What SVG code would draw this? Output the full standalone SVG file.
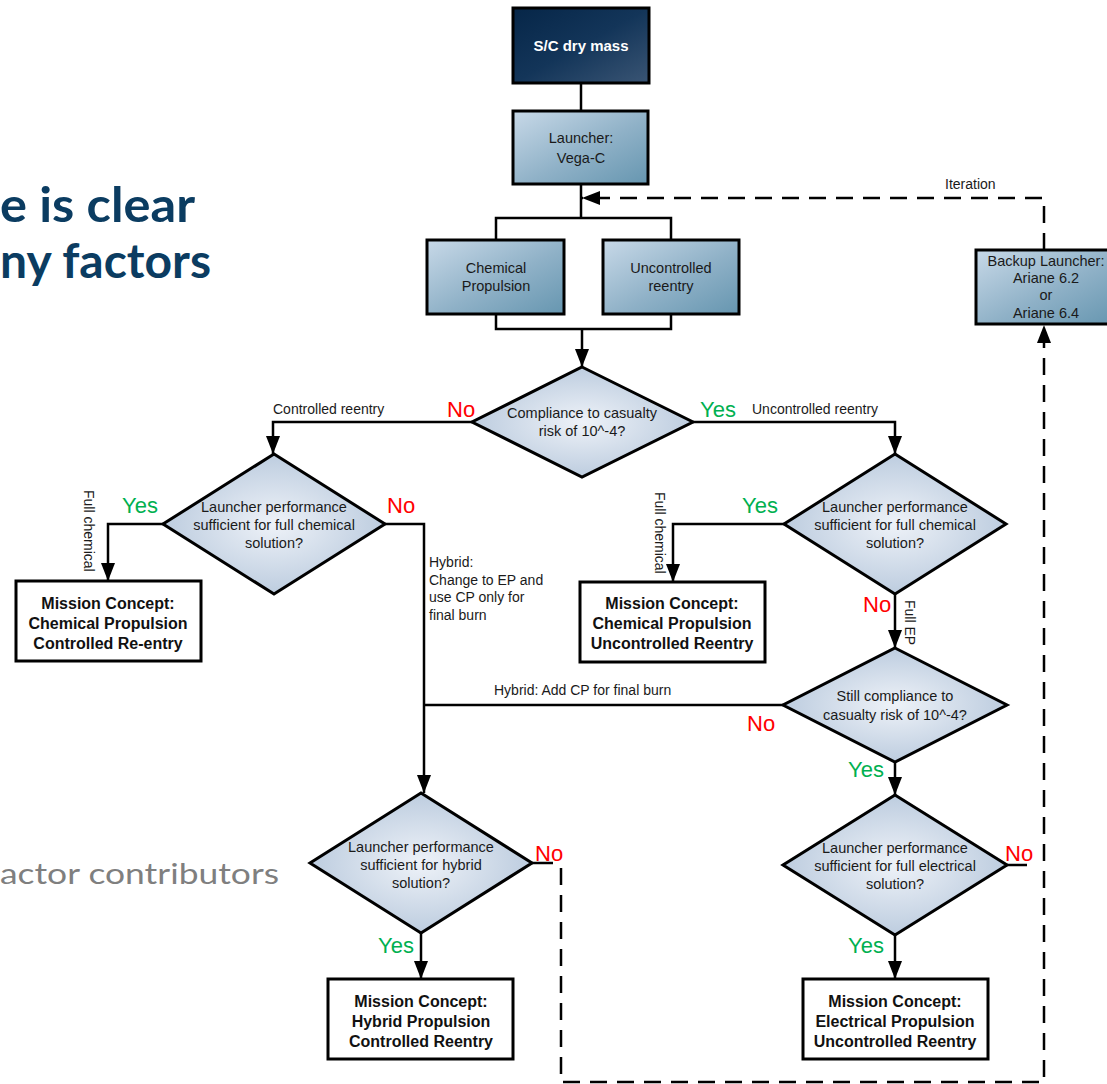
<svg xmlns="http://www.w3.org/2000/svg" width="1107" height="1084" viewBox="0 0 1107 1084">
<defs>
<linearGradient id="gBox" x1="0" y1="0" x2="1" y2="1">
<stop offset="0" stop-color="#c8d9e8"/><stop offset="0.55" stop-color="#8fb1c7"/><stop offset="1" stop-color="#6696b0"/>
</linearGradient>
<linearGradient id="gDark" x1="0" y1="0" x2="1" y2="1">
<stop offset="0" stop-color="#062648"/><stop offset="0.5" stop-color="#133559"/><stop offset="1" stop-color="#3a5574"/>
</linearGradient>
<radialGradient id="gDia" cx="0.5" cy="0.5" r="0.6">
<stop offset="0" stop-color="#eef2f8"/><stop offset="1" stop-color="#b3c5da"/>
</radialGradient>
<marker id="arr" viewBox="0 0 18 14" refX="18" refY="7" markerWidth="18" markerHeight="14" markerUnits="userSpaceOnUse" orient="auto">
<path d="M0,0 L18,7 L0,14 z" fill="#000"/>
</marker>
<style>
.box{fill:url(#gBox);stroke:#000;stroke-width:3}
.dark{fill:url(#gDark);stroke:#000;stroke-width:3}
.dia{fill:url(#gDia);stroke:#000;stroke-width:3;stroke-linejoin:miter}
.mc{fill:#fff;stroke:#000;stroke-width:3}
.t{font-family:"Liberation Sans",Arial,sans-serif;font-size:14.5px;fill:#1a1a1a;text-anchor:middle}
.tb{font-family:"Liberation Sans",Arial,sans-serif;font-size:16px;font-weight:bold;fill:#111;text-anchor:middle}
.lbl{font-family:"Liberation Sans",Arial,sans-serif;font-size:14px;fill:#1a1a1a}
.yes{font-family:"Liberation Sans",Arial,sans-serif;font-size:22px;fill:#00b050}
.no{font-family:"Liberation Sans",Arial,sans-serif;font-size:22px;fill:#ff0000}
.ln{fill:none;stroke:#000;stroke-width:2.5}
.da{fill:none;stroke:#000;stroke-width:2.5;stroke-dasharray:17 10}
.big{font-family:Lato,"Open Sans",sans-serif;font-weight:bold;font-size:48px;fill:#0b3c61}
.gray{font-family:Lato,"Open Sans",sans-serif;font-size:28px;fill:#7f7f7f}
</style>
</defs>
<rect width="1107" height="1084" fill="#fff"/>
<g id="bgtext">
<text class="big" x="0" y="222" textLength="195" lengthAdjust="spacingAndGlyphs">e is clear</text>
<text class="big" x="0" y="278" textLength="211" lengthAdjust="spacingAndGlyphs">ny factors</text>
<text class="gray" x="0" y="884" textLength="279" lengthAdjust="spacingAndGlyphs">actor contributors</text>
</g>
<g id="connectors">
<path class="ln" d="M581,83 V111"/>
<path class="ln" d="M581,184 V218 M496,240 V218 H671 V240"/>
<path class="ln" d="M496,314 V329 H671 V314"/>
<path class="ln" d="M582,329 V367" marker-end="url(#arr)"/>
<path class="da" d="M1044,250 V198 H582" marker-end="url(#arr)"/>
<path class="ln" d="M472,422 H273 V454" marker-end="url(#arr)"/>
<path class="ln" d="M693,422 H895 V454" marker-end="url(#arr)"/>
<path class="ln" d="M163,524 H108 V581" marker-end="url(#arr)"/>
<path class="ln" d="M385,524 H424 V793" marker-end="url(#arr)"/>
<path class="ln" d="M784,524 H673 V582" marker-end="url(#arr)"/>
<path class="ln" d="M895,594 V648" marker-end="url(#arr)"/>
<path class="ln" d="M783,705 H424"/>
<path class="ln" d="M895,762 V795" marker-end="url(#arr)"/>
<path class="ln" d="M421,933 V979" marker-end="url(#arr)"/>
<path class="ln" d="M532,863 H553"/>
<path class="da" d="M561,868 V1082 H1044 V325" marker-end="url(#arr)"/>
<path class="ln" d="M1007,865 H1027"/>
<path class="ln" d="M895,935 V979" marker-end="url(#arr)"/>
</g>
<g id="labels">
<text class="lbl" x="945" y="189">Iteration</text>
<text class="lbl" x="273" y="414">Controlled reentry</text>
<text class="lbl" x="752" y="414">Uncontrolled reentry</text>
<text class="lbl" x="429" y="567">Hybrid:</text>
<text class="lbl" x="429" y="585">Change to EP and</text>
<text class="lbl" x="429" y="602">use CP only for</text>
<text class="lbl" x="429" y="620">final burn</text>
<text class="lbl" x="494" y="695">Hybrid: Add CP for final burn</text>
<text class="lbl" transform="rotate(90 84 490)" x="84" y="490">Full chemical</text>
<text class="lbl" transform="rotate(90 655 492)" x="655" y="492">Full chemical</text>
<text class="lbl" transform="rotate(90 905 600)" x="905" y="600">Full EP</text>
<text class="no" x="447" y="417">No</text>
<text class="yes" x="700" y="417">Yes</text>
<text class="yes" x="122" y="513">Yes</text>
<text class="no" x="387" y="513">No</text>
<text class="yes" x="742" y="513">Yes</text>
<text class="no" x="863" y="612">No</text>
<text class="no" x="747" y="731">No</text>
<text class="yes" x="848" y="777">Yes</text>
<text class="no" x="535" y="861">No</text>
<text class="yes" x="378" y="953">Yes</text>
<text class="no" x="1005" y="861">No</text>
<text class="yes" x="848" y="953">Yes</text>
</g>
<g id="n-drymass">
<rect class="dark" x="513" y="8" width="136" height="75"/>
<text class="t" x="581" y="51" style="fill:#fff;font-weight:bold;font-size:15px">S/C dry mass</text>
</g>
<g id="n-launcher">
<rect class="box" x="513" y="111" width="135" height="73"/>
<text class="t" x="581" y="143">Launcher:</text>
<text class="t" x="581" y="163">Vega-C</text>
</g>
<g id="n-chemprop">
<rect class="box" x="427" y="240" width="137" height="74"/>
<text class="t" x="496" y="273">Chemical</text>
<text class="t" x="496" y="291">Propulsion</text>
</g>
<g id="n-uncontrolled">
<rect class="box" x="603" y="240" width="136" height="74"/>
<text class="t" x="671" y="273">Uncontrolled</text>
<text class="t" x="671" y="291">reentry</text>
</g>
<g id="n-backup">
<rect class="box" x="976" y="250" width="140" height="74"/>
<text class="t" x="1046" y="266">Backup Launcher:</text>
<text class="t" x="1046" y="283">Ariane 6.2</text>
<text class="t" x="1046" y="300">or</text>
<text class="t" x="1046" y="318">Ariane 6.4</text>
</g>
<g id="n-d1">
<polygon class="dia" points="582,367 693,422 582,477 472,422"/>
<text class="t" x="582" y="418">Compliance to casualty</text>
<text class="t" x="582" y="436">risk of 10^-4?</text>
</g>
<g id="n-d2">
<polygon class="dia" points="274,454 385,524 274,594 163,524"/>
<text class="t" x="274" y="512">Launcher performance</text>
<text class="t" x="274" y="530">sufficient for full chemical</text>
<text class="t" x="274" y="548">solution?</text>
</g>
<g id="n-d3">
<polygon class="dia" points="895,454 1006,524 895,594 784,524"/>
<text class="t" x="895" y="512">Launcher performance</text>
<text class="t" x="895" y="530">sufficient for full chemical</text>
<text class="t" x="895" y="548">solution?</text>
</g>
<g id="n-d4">
<polygon class="dia" points="895,648 1007,705 895,762 783,705"/>
<text class="t" x="895" y="701">Still compliance to</text>
<text class="t" x="895" y="720">casualty risk of 10^-4?</text>
</g>
<g id="n-d5">
<polygon class="dia" points="421,793 532,863 421,933 310,863"/>
<text class="t" x="421" y="852">Launcher performance</text>
<text class="t" x="421" y="870">sufficient for hybrid</text>
<text class="t" x="421" y="888">solution?</text>
</g>
<g id="n-d6">
<polygon class="dia" points="895,795 1007,865 895,935 783,865"/>
<text class="t" x="895" y="853">Launcher performance</text>
<text class="t" x="895" y="871">sufficient for full electrical</text>
<text class="t" x="895" y="889">solution?</text>
</g>
<g id="n-mc-chem-ctrl">
<rect class="mc" x="16" y="581" width="185" height="80"/>
<text class="tb" x="108" y="609">Mission Concept:</text>
<text class="tb" x="108" y="629">Chemical Propulsion</text>
<text class="tb" x="108" y="649">Controlled Re-entry</text>
</g>
<g id="n-mc-chem-unc">
<rect class="mc" x="580" y="582" width="185" height="80"/>
<text class="tb" x="672" y="609">Mission Concept:</text>
<text class="tb" x="672" y="629">Chemical Propulsion</text>
<text class="tb" x="672" y="649">Uncontrolled Reentry</text>
</g>
<g id="n-mc-hybrid">
<rect class="mc" x="328" y="979" width="185" height="80"/>
<text class="tb" x="421" y="1007">Mission Concept:</text>
<text class="tb" x="421" y="1027">Hybrid Propulsion</text>
<text class="tb" x="421" y="1047">Controlled Reentry</text>
</g>
<g id="n-mc-elec">
<rect class="mc" x="803" y="979" width="185" height="80"/>
<text class="tb" x="895" y="1007">Mission Concept:</text>
<text class="tb" x="895" y="1027">Electrical Propulsion</text>
<text class="tb" x="895" y="1047">Uncontrolled Reentry</text>
</g>
</svg>
